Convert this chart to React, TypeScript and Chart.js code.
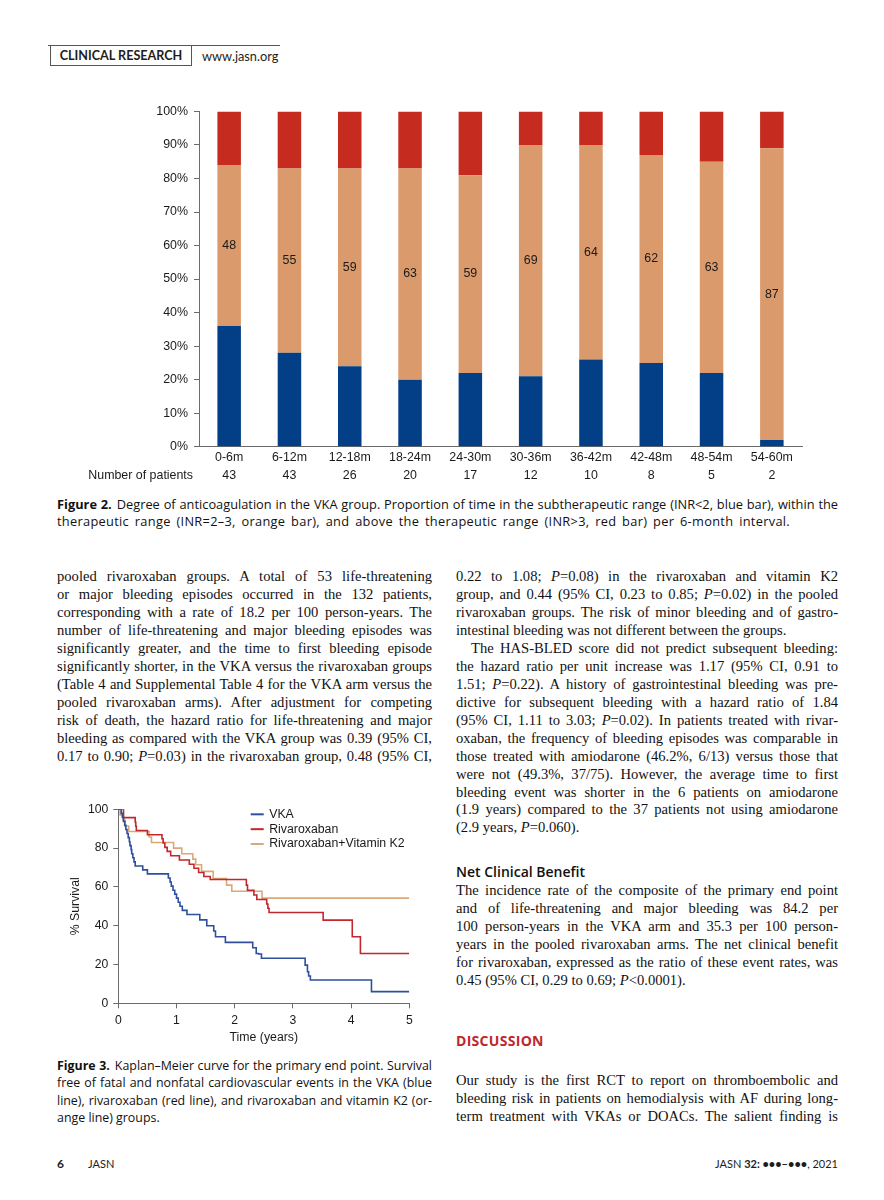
import React, { useEffect, useRef } from "react";
import { Chart, registerables } from "chart.js";

Chart.register(...registerables);

const SANS = "'Liberation Sans', Arial, Helvetica, sans-serif";
const CAP = "'Open Sans', Lato, sans-serif";
const SERIF = "'Liberation Serif', 'Times New Roman', serif";

// ---------- Figure 2 data ----------
const intervals = ["0-6m", "6-12m", "12-18m", "18-24m", "24-30m", "30-36m", "36-42m", "42-48m", "48-54m", "54-60m"];
const patientCounts = [43, 43, 26, 20, 17, 12, 10, 8, 5, 2];
const subtherapeutic = [36, 28, 24, 20, 22, 21, 26, 25, 22, 2];
const therapeutic = [48, 55, 59, 63, 59, 69, 64, 62, 63, 87];
const supratherapeutic = [16, 17, 17, 17, 19, 10, 10, 13, 15, 11];

// ---------- Figure 3 data (Kaplan-Meier) ----------
const vkaTimes = [0, 0.05, 0.07, 0.09, 0.11, 0.13, 0.15, 0.17, 0.19, 0.2, 0.22, 0.23, 0.25, 0.27, 0.29, 0.42, 0.5, 0.86, 0.89, 0.91, 0.94, 0.97, 1.0, 1.03, 1.06, 1.1, 1.18, 1.4, 1.52, 1.64, 1.67, 1.84, 2.31, 2.37, 2.41, 2.46, 3.21, 3.25, 3.27, 3.3, 4.35, 5];
const vkaSurvival = [100, 97.9, 95.8, 93.8, 91.7, 89.6, 87.5, 85.4, 83.3, 81.3, 79.2, 77.1, 75, 72.9, 70.8, 68.8, 66.7, 64.6, 62.5, 60.4, 58.3, 56.3, 54.2, 52.1, 50, 47.9, 45.8, 43, 40, 37.3, 34.3, 31.4, 28.6, 25.7, 25.4, 23.2, 19.7, 16.3, 14.1, 12, 6, 6];
const rivaTimes = [0, 0.09, 0.29, 0.3, 0.31, 0.5, 0.75, 0.77, 0.8, 0.84, 0.9, 1.05, 1.22, 1.3, 1.38, 1.47, 1.58, 2.2, 2.22, 2.33, 2.38, 2.55, 2.57, 2.59, 3.52, 4.02, 4.16, 5];
const rivaSurvival = [100, 95.7, 93.5, 91.3, 89.1, 86.9, 84.8, 82.6, 80.4, 78.3, 76.1, 73.9, 71.7, 69.6, 67.4, 65.4, 63.8, 60.9, 58.3, 55.8, 53.5, 51.2, 49, 46.8, 42.9, 34.3, 25.7, 25.7];
const rivaK2Times = [0, 0.03, 0.08, 0.12, 0.18, 0.53, 0.57, 0.95, 1.09, 1.28, 1.33, 1.43, 1.63, 1.86, 1.95, 2.47, 5];
const rivaK2Survival = [100, 97.1, 94.3, 91.4, 88.6, 85.7, 82.9, 80, 77.1, 74.3, 71.4, 68, 64.3, 60.9, 57.8, 54.2, 54.2];
const kmSeriesLabels = ["VKA", "Rivaroxaban", "Rivaroxaban+Vitamin K2"];

// ---------- Page text ----------
type Ln = { t: string; j?: boolean; indent?: number; w?: number; ls?: number };
const leftColumn: Ln[] = [
  { t: "pooled rivaroxaban groups. A total of 53 life-threatening", j: true },
  { t: "or major bleeding episodes occurred in the 132 patients,", j: true },
  { t: "corresponding with a rate of 18.2 per 100 person-years. The", j: true },
  { t: "number of life-threatening and major bleeding episodes was", j: true },
  { t: "significantly greater, and the time to first bleeding episode", j: true },
  { t: "significantly shorter, in the VKA versus the rivaroxaban groups", j: true },
  { t: "(Table 4 and Supplemental Table 4 for the VKA arm versus the", j: true },
  { t: "pooled rivaroxaban arms). After adjustment for competing", j: true },
  { t: "risk of death, the hazard ratio for life-threatening and major", j: true },
  { t: "bleeding as compared with the VKA group was 0.39 (95% CI,", j: true },
  { t: "0.17 to 0.90; _P_=0.03) in the rivaroxaban group, 0.48 (95% CI,", j: true },
];
const rightColumnA: Ln[] = [
  { t: "0.22 to 1.08; _P_=0.08) in the rivaroxaban and vitamin K2", j: true },
  { t: "group, and 0.44 (95% CI, 0.23 to 0.85; _P_=0.02) in the pooled", j: true },
  { t: "rivaroxaban groups. The risk of minor bleeding and of gastro-", j: true },
  { t: "intestinal bleeding was not different between the groups." },
  { t: "The HAS-BLED score did not predict subsequent bleeding:", j: true, indent: 15 },
  { t: "the hazard ratio per unit increase was 1.17 (95% CI, 0.91 to", j: true },
  { t: "1.51; _P_=0.22). A history of gastrointestinal bleeding was pre-", j: true },
  { t: "dictive for subsequent bleeding with a hazard ratio of 1.84", j: true },
  { t: "(95% CI, 1.11 to 3.03; _P_=0.02). In patients treated with rivar-", j: true },
  { t: "oxaban, the frequency of bleeding episodes was comparable in", j: true },
  { t: "those treated with amiodarone (46.2%, 6/13) versus those that", j: true },
  { t: "were not (49.3%, 37/75). However, the average time to first", j: true },
  { t: "bleeding event was shorter in the 6 patients on amiodarone", j: true },
  { t: "(1.9 years) compared to the 37 patients not using amiodarone", j: true },
  { t: "(2.9 years, _P_=0.060)." },
];
const rightColumnB: Ln[] = [
  { t: "The incidence rate of the composite of the primary end point", j: true },
  { t: "and of life-threatening and major bleeding was 84.2 per", j: true },
  { t: "100 person-years in the VKA arm and 35.3 per 100 person-", j: true },
  { t: "years in the pooled rivaroxaban arms. The net clinical benefit", j: true },
  { t: "for rivaroxaban, expressed as the ratio of these event rates, was", j: true },
  { t: "0.45 (95% CI, 0.29 to 0.69; _P_<0.0001)." },
];
const rightColumnC: Ln[] = [
  { t: "Our study is the first RCT to report on thromboembolic and", j: true },
  { t: "bleeding risk in patients on hemodialysis with AF during long-", j: true },
  { t: "term treatment with VKAs or DOACs. The salient finding is", j: true },
];
const fig2Caption: Ln[] = [
  { t: "Degree of anticoagulation in the VKA group. Proportion of time in the subtherapeutic range (INR<2, blue bar), within the", j: true },
  { t: "therapeutic range (INR=2–3, orange bar), and above the therapeutic range (INR>3, red bar) per 6-month interval.", j: true, w: 733, ls: 0.3 },
];
const fig3Caption: Ln[] = [
  { t: "Kaplan–Meier curve for the primary end point. Survival", j: true },
  { t: "free of fatal and nonfatal cardiovascular events in the VKA (blue", j: true },
  { t: "line), rivaroxaban (red line), and rivaroxaban and vitamin K2 (or-", j: true },
  { t: "ange line) groups." },
];

function renderText(t: string) {
  const parts = t.split("_P_");
  const out: React.ReactNode[] = [];
  parts.forEach((p, i) => {
    if (i > 0) out.push(<i key={"i" + i}>P</i>);
    out.push(<React.Fragment key={"t" + i}>{p}</React.Fragment>);
  });
  return out;
}

function TextBlock(props: { lines: Ln[]; x: number; y: number; w: number; pitch: number; font: string; size: number; lead?: React.ReactNode; color?: string }) {
  const { lines, x, y, w, pitch, font, size, lead, color } = props;
  return (
    <>
      {lines.map((ln, i) => (
        <div
          key={i}
          style={{
            position: "absolute",
            left: x + (ln.indent || 0),
            top: y + i * pitch - 9,
            width: (ln.w || w) - (ln.indent || 0),
            height: 18,
            lineHeight: "18px",
            fontFamily: font,
            fontSize: size,
            letterSpacing: ln.ls ? ln.ls : undefined,
            color: color || "#111",
            textAlign: ln.j ? "justify" : "left",
            textAlignLast: ln.j ? "justify" : "left",
            whiteSpace: "nowrap",
          } as React.CSSProperties}
        >
          {i === 0 && lead ? lead : null}
          {renderText(ln.t)}
        </div>
      ))}
    </>
  );
}

// ---------- Figure 2 chart ----------
const barLabelPlugin = {
  id: "barLabelPlugin",
  afterDatasetsDraw(chart: any) {
    const ctx = chart.ctx;
    const meta = chart.getDatasetMeta(1);
    ctx.save();
    ctx.font = `12.4px ${SANS}`;
    ctx.fillStyle = "#1a1a1a";
    ctx.textAlign = "center";
    ctx.textBaseline = "middle";
    meta.data.forEach((bar: any, i: number) => {
      const p = bar.getProps(["x", "y", "base"], true);
      ctx.fillText(String(therapeutic[i]), p.x, (p.y + p.base) / 2);
    });
    const xs = chart.scales.x;
    ctx.textAlign = "right";
    ctx.fillText("Number of patients", xs.left - 6, xs.top + 2 + 9 + 18);
    ctx.restore();
  },
};

function AnticoagulationChart() {
  const ref = useRef<HTMLCanvasElement>(null);
  useEffect(() => {
    const chart = new Chart(ref.current as HTMLCanvasElement, {
      type: "bar",
      data: {
        labels: intervals,
        datasets: [
          { label: "INR<2", data: subtherapeutic, backgroundColor: "#033f86" },
          { label: "INR 2-3", data: therapeutic, backgroundColor: "#db9a6b" },
          { label: "INR>3", data: supratherapeutic, backgroundColor: "#c52b1e" },
        ],
      },
      options: {
        responsive: false,
        maintainAspectRatio: false,
        animation: false,
        layout: { padding: { top: 0, right: 8, left: 0, bottom: 0 } },
        datasets: { bar: { barPercentage: 0.39, categoryPercentage: 1 } },
        plugins: { legend: { display: false }, tooltip: { enabled: false } },
        scales: {
          x: {
            stacked: true,
            grid: { display: false, drawTicks: false },
            border: { display: true, color: "#6b6b6b", width: 1 },
            ticks: {
              color: "#1a1a1a",
              font: { family: SANS, size: 12.4, lineHeight: 18 / 12.4 },
              padding: 2,
              autoSkip: false,
              maxRotation: 0,
              callback: (_v: any, i: number) => [intervals[i], String(patientCounts[i])],
            },
            afterFit: (s: any) => { s.height = 43.3; },
          },
          y: {
            stacked: true,
            min: 0,
            max: 100,
            grid: { drawOnChartArea: false, drawTicks: true, tickLength: 5, color: "#6b6b6b" },
            border: { display: true, color: "#6b6b6b", width: 1 },
            ticks: {
              stepSize: 10,
              color: "#1a1a1a",
              padding: 6,
              font: { family: SANS, size: 12.4 },
              callback: (v: any) => v + "%",
            },
            afterFit: (s: any) => { s.width = 119; },
          },
        },
      },
      plugins: [barLabelPlugin],
    } as any);
    return () => chart.destroy();
  }, []);
  return <canvas ref={ref} width={730} height={392} style={{ position: "absolute", left: 80, top: 98, width: 730, height: 392 }} />;
}

// ---------- Figure 3 chart ----------
const kmLegendPlugin = {
  id: "kmLegendPlugin",
  afterDraw(chart: any) {
    const { ctx, chartArea } = chart;
    ctx.save();
    ctx.font = `12.3px ${SANS}`;
    ctx.textBaseline = "middle";
    ctx.textAlign = "left";
    chart.data.datasets.forEach((ds: any, i: number) => {
      const y = chartArea.top + 5 + i * 14.85;
      const x0 = chartArea.left + 132.4;
      ctx.strokeStyle = ds.borderColor;
      ctx.lineWidth = 2;
      ctx.beginPath();
      ctx.moveTo(x0, y);
      ctx.lineTo(x0 + 13, y);
      ctx.stroke();
      ctx.fillStyle = "#1a1a1a";
      ctx.fillText(ds.label, x0 + 18.5, y);
    });
    ctx.restore();
  },
};

function toPoints(ts: number[], ss: number[]) {
  return ts.map((t, i) => ({ x: t, y: ss[i] }));
}

function KaplanMeierChart() {
  const ref = useRef<HTMLCanvasElement>(null);
  useEffect(() => {
    const common = { stepped: true, pointRadius: 0, borderWidth: 1.6, fill: false };
    const chart = new Chart(ref.current as HTMLCanvasElement, {
      type: "line",
      data: {
        datasets: [
          { ...common, label: kmSeriesLabels[0], data: toPoints(vkaTimes, vkaSurvival), borderColor: "#2d4f9e" },
          { ...common, label: kmSeriesLabels[1], data: toPoints(rivaTimes, rivaSurvival), borderColor: "#c1272d" },
          { ...common, label: kmSeriesLabels[2], data: toPoints(rivaK2Times, rivaK2Survival), borderColor: "#d9a979" },
        ],
      },
      options: {
        responsive: false,
        maintainAspectRatio: false,
        animation: false,
        layout: { padding: { top: 0, right: 20.7, left: 0, bottom: 0 } },
        plugins: { legend: { display: false }, tooltip: { enabled: false } },
        scales: {
          x: {
            type: "linear",
            min: 0,
            max: 5,
            grid: { drawOnChartArea: false, drawTicks: true, tickLength: 5, color: "#6b6b6b" },
            border: { display: true, color: "#6b6b6b", width: 1 },
            ticks: { stepSize: 1, color: "#1a1a1a", padding: 4.8, font: { family: SANS, size: 12.2 } },
            title: { display: true, text: "Time (years)", color: "#1a1a1a", font: { family: SANS, size: 12.3 }, padding: { top: 0, bottom: 4.6 } },
            afterFit: (s: any) => { s.height = 46.7; },
          },
          y: {
            min: 0,
            max: 100,
            grid: { drawOnChartArea: false, drawTicks: true, tickLength: 5, color: "#6b6b6b" },
            border: { display: true, color: "#6b6b6b", width: 1 },
            ticks: { stepSize: 20, color: "#1a1a1a", padding: 5, font: { family: SANS, size: 12.2 } },
            title: { display: true, text: "% Survival", color: "#1a1a1a", font: { family: SANS, size: 12.3 }, padding: { top: 8.6, bottom: 0 } },
            afterFit: (s: any) => { s.width = 58.3; },
          },
        },
      },
      plugins: [kmLegendPlugin],
    } as any);
    return () => chart.destroy();
  }, []);
  return <canvas ref={ref} width={370} height={253} style={{ position: "absolute", left: 60, top: 797, width: 370, height: 253 }} />;
}

export default function App() {
  const pitch = 17.96;
  return (
    <div style={{ position: "absolute", left: 0, top: 0, width: 884, height: 1200, background: "#fff", overflow: "hidden" }}>
      {/* Header */}
      <div style={{ position: "absolute", left: 48, top: 45, width: 232, height: 0, borderTop: "1px solid #555" }} />
      <div style={{ position: "absolute", left: 50, top: 45, width: 142, height: 21, borderLeft: "1px solid #555", borderRight: "1px solid #555", borderBottom: "1px solid #555", boxSizing: "border-box" }} />
      <div style={{ position: "absolute", left: 50, top: 46, width: 142, height: 20, lineHeight: "20px", textAlign: "center", fontFamily: "Lato, sans-serif", fontWeight: 700, fontSize: 12.6, color: "#1d1d1d" }}>CLINICAL RESEARCH</div>
      <div style={{ position: "absolute", left: 202, top: 46, height: 20, lineHeight: "20px", fontFamily: "Lato, sans-serif", fontSize: 12.8, color: "#1d1d1d" }}>www.jasn.org</div>

      <AnticoagulationChart />

      <TextBlock lines={fig2Caption} x={57} y={504} w={781} pitch={17} font={CAP} size={12.8}
        lead={<b style={{ marginRight: 5 }}>Figure 2.</b>} />

      <TextBlock lines={leftColumn} x={57} y={576} w={375} pitch={pitch} font={SERIF} size={14.6} />

      <KaplanMeierChart />

      <TextBlock lines={fig3Caption} x={57} y={1066} w={375} pitch={17.4} font={CAP} size={12.4}
        lead={<b style={{ marginRight: 5 }}>Figure 3.</b>} />

      <TextBlock lines={rightColumnA} x={456} y={576} w={382} pitch={pitch} font={SERIF} size={14.6} />
      <div style={{ position: "absolute", left: 456, top: 862, lineHeight: "20px", fontFamily: CAP, fontWeight: 600, fontSize: 14, color: "#111" }}>Net Clinical Benefit</div>
      <TextBlock lines={rightColumnB} x={456} y={890} w={382} pitch={pitch} font={SERIF} size={14.6} />
      <div style={{ position: "absolute", left: 456, top: 1031, lineHeight: "20px", fontFamily: CAP, fontWeight: 700, fontSize: 14, letterSpacing: 0.3, color: "#c0272d" }}>DISCUSSION</div>
      <TextBlock lines={rightColumnC} x={456} y={1080} w={382} pitch={pitch} font={SERIF} size={14.6} />

      {/* Footer */}
      <div style={{ position: "absolute", left: 57, top: 1155, lineHeight: "18px", fontFamily: "Lato, sans-serif", fontWeight: 700, fontSize: 12, color: "#1d1d1d" }}>6</div>
      <div style={{ position: "absolute", left: 88, top: 1155, lineHeight: "18px", fontFamily: "Lato, sans-serif", fontSize: 11, color: "#1d1d1d" }}>JASN</div>
      <div style={{ position: "absolute", right: 884 - 838, top: 1155, lineHeight: "18px", fontFamily: "Lato, sans-serif", fontSize: 11, color: "#1d1d1d" }}>
        JASN <b>32: •••–•••</b>, 2021
      </div>
    </div>
  );
}
